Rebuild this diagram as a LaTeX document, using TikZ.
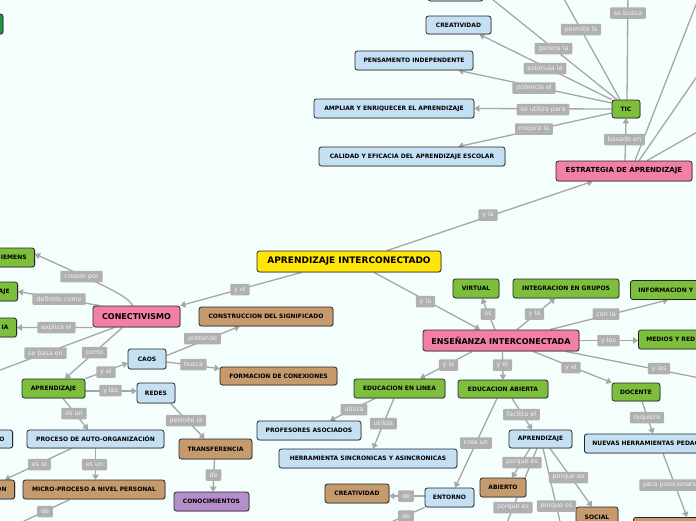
\documentclass[tikz,border=0pt]{standalone}
\usepackage{fontspec}
\setmainfont{DejaVu Sans}
\usetikzlibrary{arrows.meta,shadows,calc}
\definecolor{bgc}{RGB}{244,255,253}
\definecolor{cgreen}{RGB}{125,190,60}
\definecolor{cdgreen}{RGB}{30,150,60}
\definecolor{cpink}{RGB}{242,127,165}
\definecolor{cblue}{RGB}{198,224,243}
\definecolor{cbrown}{RGB}{197,154,108}
\definecolor{cpurple}{RGB}{180,143,201}
\definecolor{cyellow}{RGB}{255,229,10}
\definecolor{clab}{RGB}{176,176,176}
\definecolor{clabt}{RGB}{242,242,242}
\definecolor{cedge}{RGB}{166,166,166}
\pgfdeclarelayer{bg}
\pgfdeclarelayer{edges}
\pgfsetlayers{bg,edges,main}
\tikzset{
  box/.style={draw=black!85, line width=0.8pt, rounded corners=2.5pt, minimum height=19pt,
    inner xsep=0pt, inner ysep=0pt, text=black,
    font=\bfseries\fontsize{6}{7}\selectfont,
    drop shadow={shadow xshift=0.8pt, shadow yshift=-0.8pt, opacity=0.3}},
  gbox/.style={box, fill=cgreen},
  pbox/.style={box, fill=cpink},
  bbox/.style={box, fill=cblue},
  brbox/.style={box, fill=cbrown},
  ubox/.style={box, fill=cpurple},
  ybox/.style={box, fill=cyellow},
  lcut/.style={anchor=east, inner xsep=8pt, text width=44pt, align=right},
  rcut/.style={anchor=west, inner xsep=8pt, text width=90pt, align=left},
  lab/.style={fill=clab, text=clabt, rounded corners=1pt, inner xsep=3.8pt, inner ysep=0pt,
    minimum height=11.5pt, font=\fontsize{6.4}{7}\selectfont},
  conn/.style={draw=cedge, line width=1.3pt},
  arr/.style={conn, -{Triangle[length=5pt,width=6.5pt]}},
}
\begin{document}
\begin{tikzpicture}[x=1pt,y=-1pt]
\useasboundingbox (0,0) rectangle (696,520);
\begin{pgfonlayer}{bg}
\fill[bgc] (0,0) rectangle (696,520);
\end{pgfonlayer}

% ---------- main nodes ----------
\node[ybox, minimum width=184, minimum height=21, font=\bfseries\fontsize{9}{10}\selectfont] (AI) at (349,261.5) {APRENDIZAJE INTERCONECTADO};
\node[pbox, minimum width=136, minimum height=20, font=\bfseries\fontsize{7}{8}\selectfont] (EST) at (624,171) {ESTRATEGIA DE APRENDIZAJE};
\node[gbox, minimum width=28, minimum height=18] (TIC) at (626,109) {TIC};
\node[bbox, minimum width=65, minimum height=18] (CRE1) at (458.5,25) {CREATIVIDAD};
\node[bbox, minimum width=118] (PEN) at (414,60.5) {PENSAMENTO INDEPENDENTE};
\node[bbox, minimum width=160] (AMP) at (394,108.5) {AMPLIAR Y ENRIQUECER EL APRENDIZAJE};
\node[bbox, minimum width=186] (CAL) at (412,156.5) {CALIDAD Y EFICACIA DEL APRENDIZAJE ESCOLAR};
\node[bbox, minimum width=55, minimum height=18] (TOP) at (455.5,-8) {};
\node[box, fill=cdgreen, minimum width=43, minimum height=20] (TL) at (-18.5,24) {};

\node[pbox, minimum width=87, minimum height=21, font=\bfseries\fontsize{8}{9}\selectfont] (CON) at (136.5,316.5) {CONECTIVISMO};
\node[gbox, lcut] (SIEM) at (35,257.5) {IEMENS};
\node[gbox, lcut] (AJE) at (18,291.5) {AJE};
\node[gbox, lcut] (IA) at (17,327.5) {IA};
\node[bbox, lcut, minimum height=18] (OO) at (13,439) {O};
\node[brbox, lcut] (ON) at (15,489.5) {ON};

\node[gbox, minimum width=63] (APR1) at (53.5,388.5) {APRENDIZAJE};
\node[bbox, minimum width=38, minimum height=20] (CAOS) at (147,359) {CAOS};
\node[bbox, minimum width=38, minimum height=20] (REDES) at (156,393) {REDES};
\node[brbox, minimum width=134] (CONS) at (266,316.5) {CONSTRUCCION DEL SIGNIFICADO};
\node[brbox, minimum width=117, minimum height=18] (FORM) at (278.5,376) {FORMACION DE CONEXIONES};
\node[bbox, minimum width=137, minimum height=18] (PROC) at (95.5,439) {PROCESO DE AUTO-ORGANIZACIÓN};
\node[brbox, minimum width=142] (MICRO) at (94,489.5) {MICRO-PROCESO A NIVEL PERSONAL};
\node[brbox, minimum width=73, minimum height=20] (TRANS) at (215.5,449) {TRANSFERENCIA};
\node[ubox, minimum width=75] (CONOC) at (211.5,501.5) {CONOCIMIENTOS};

\node[pbox, minimum width=156, minimum height=21, font=\bfseries\fontsize{8}{9}\selectfont] (ENS) at (501,340.5) {ENSEÑANZA INTERCONECTADA};
\node[gbox, minimum width=46] (VIRT) at (476,288.5) {VIRTUAL};
\node[gbox, minimum width=106] (INTEG) at (566,288.5) {INTEGRACION EN GRUPOS};
\node[gbox, rcut] (INFO) at (630,290) {INFORMACION Y};
\node[gbox, rcut] (MED) at (638,339.5) {MEDIOS Y RED};
\node[gbox, minimum width=48, minimum height=18] (DOC) at (636,392) {DOCENTE};
\node[gbox, minimum width=90, minimum height=18] (EDAB) at (503,389) {EDUCACION ABIERTA};
\node[gbox, minimum width=91] (EDLIN) at (399.5,388.5) {EDUCACION EN LINEA};
\node[bbox, minimum width=104] (PROF) at (309,430.5) {PROFESORES ASOCIADOS};
\node[bbox, minimum width=178] (HERR) at (368,458.5) {HERRAMIENTA SINCRONICAS Y ASINCRONICAS};
\node[brbox, minimum width=64] (CRE2) at (357,493.5) {CREATIVIDAD};
\node[bbox, minimum width=49] (ENT) at (449.5,497.5) {ENTORNO};
\node[bbox, minimum width=63, minimum height=18] (APR2) at (540.5,439) {APRENDIZAJE};
\node[brbox, minimum width=46] (ABI) at (503,487.5) {ABIERTO};
\node[brbox, minimum width=42, minimum height=20] (SOC) at (597,517) {SOCIAL};
\node[bbox, rcut, text width=110pt, minimum height=19] (NUEV) at (584,443.5) {NUEVAS HERRAMIENTAS PEDAG};
\node[brbox, anchor=north west, minimum width=80] (BR) at (633,517) {};

% ---------- off-picture ends ----------
\coordinate (offA) at (487,-5);
\coordinate (offB) at (559,-10);
\coordinate (offC) at (628,-10);
\coordinate (offD) at (710,-31);
\coordinate (offE) at (720,43);
\coordinate (offF) at (720,119);
\coordinate (offG) at (-20,377.5);
\coordinate (offH) at (20,523);
\coordinate (offI) at (720,382);
\coordinate (offJ) at (373,530);
\coordinate (offK) at (504,530);
\coordinate (offL) at (562,530);

% ---------- connectors ----------
\begin{pgfonlayer}{edges}
\draw[conn] ($(TIC.north)+(-9,0)$) -- (offA);
\draw[arr] (TIC.north west) -- ($(CRE1.south east)+(-12,0)$);
\draw[arr] ($(TIC.west)+(0,-6)$) -- ($(PEN.south east)+(-15,0)$);
\draw[arr] (TIC.west) -- (AMP.east);
\draw[arr] ($(TIC.west)+(0,4)$) -- ($(CAL.north east)+(-47,0)$);
\draw[conn] ($(TIC.north)+(-6,0)$) -- (offB);
\draw[conn] ($(TIC.north)+(1,0)$) -- (offC);
\draw[arr] ($(EST.north)+(1,0)$) -- (TIC.south);
\draw[conn] ($(EST.north)+(11,0)$) -- (offD);
\draw[conn] ($(EST.north)+(15,0)$) -- (offE);
\draw[conn] ($(EST.north)+(23,0)$) -- (offF);
\draw[arr] ($(AI.north)+(38,0)$) -- ($(EST.south west)+(37,0)$);
\draw[arr] ($(AI.south west)+(45,0)$) -- (CON.north east);
\draw[arr] ($(AI.south)+(25,0)$) -- ($(ENS.north)+(-21,0)$);

\draw[arr] ($(CON.north)+(-4,0)$) .. controls (129,297) and (110,288) .. ($(SIEM.east)+(0,-3.5)$);
\draw[arr] ($(CON.north west)+(7,0)$) -- (AJE.east);
\draw[arr] (CON.south west) -- (IA.east);
\draw[conn] ($(CON.south west)+(22,0)$) -- (offG);
\draw[arr] ($(CON.south)+(-14,0)$) -- ($(APR1.north)+(11.5,0)$);
\draw[arr] (APR1.north east) -- ($(CAOS.west)+(0,4)$);
\draw[arr] ($(APR1.east)+(0,2.5)$) -- ($(REDES.west)+(0,-2)$);
\draw[arr] ($(CAOS.north east)+(0,7)$) -- ($(CONS.south west)+(41,0)$);
\draw[arr] ($(CAOS.east)+(0,3)$) -- ($(FORM.north west)+(0,2)$);
\draw[arr] ($(REDES.south east)+(-5,0)$) -- ($(TRANS.north west)+(26,0)$);
\draw[arr] ($(TRANS.south)+(-1,0)$) -- ($(CONOC.north)+(1.5,0)$);
\draw[arr] ($(APR1.south)+(9.5,0)$) -- ($(PROC.north)+(-7.5,0)$);
\draw[arr] ($(PROC.south)+(-24,0)$) -- ($(ON.north east)+(-10,0)$);
\draw[arr] (PROC.south) -- ($(MICRO.north)+(1.5,0)$);
\draw[conn] ($(MICRO.south)+(-24,0)$) -- (offH);

\draw[arr] ($(ENS.north)+(-6,0)$) -- ($(VIRT.south)+(6,0)$);
\draw[arr] ($(ENS.north)+(16,0)$) -- ($(INTEG.south)+(-11,0)$);
\draw[arr] ($(ENS.north)+(49,0)$) -- ($(INFO.south west)+(38,0)$);
\draw[arr] (ENS.east) -- (MED.west |- ENS.east);
\draw[conn] ($(ENS.south east)+(-14,0)$) -- (offI);
\draw[arr] ($(ENS.south)+(32,0)$) -- (DOC.north west);
\draw[arr] ($(ENS.south)+(1.5,0)$) -- (EDAB.north);
\draw[arr] ($(ENS.south west)+(50,0)$) -- ($(EDLIN.north)+(20.5,0)$);
\draw[arr] ($(EDLIN.south)+(-24.5,0)$) -- ($(PROF.north)+(21,0)$);
\draw[arr] ($(EDLIN.south)+(-5.5,0)$) -- ($(HERR.north)+(5,0)$);
\draw[arr] ($(EDAB.south)+(-6,0)$) -- ($(ENT.north)+(5.5,0)$);
\draw[arr] ($(EDAB.south)+(9,0)$) -- ($(APR2.north)+(-8.5,0)$);
\draw[arr] ($(ENT.west)+(0,-1.5)$) -- ($(CRE2.east)+(0,2.5)$);
\draw[conn] (ENT.south west) -- (offJ);
\draw[arr] ($(APR2.south)+(-10.5,0)$) -- ($(ABI.north)+(9,0)$);
\draw[conn] ($(APR2.south)+(-3.5,0)$) -- (offK);
\draw[conn] ($(APR2.south)+(2.5,0)$) -- (offL);
\draw[arr] ($(APR2.south)+(9.5,0)$) -- ($(SOC.north)+(-5,0)$);
\draw[arr] ($(DOC.south)+(6,0)$) -- ($(NUEV.north west)+(69,0)$);
\draw[arr] ($(NUEV.south west)+(79,0)$) -- ($(BR.north west)+(54,0)$);
\end{pgfonlayer}

% ---------- connector labels ----------
\node[lab] (l1) at (628,13) {se busca};
\node[lab] (l2) at (581,29.5) {permite la};
\node[lab] (l3) at (553.5,48.5) {genera la};
\node[lab] (l4) at (545,68.5) {estimula la};
\node[lab] (l5) at (534,88) {potencia el};
\node[lab] (l6) at (543,109.5) {se utiliza para};
\node[lab] (l7) at (534,129) {mejora la};
\node[lab] (l8) at (624.5,139.5) {basado en};
\node[lab] (l9) at (488,215) {y la};
\node[lab] (l10) at (240,289.5) {y el};
\node[lab] (l11) at (425.5,301.5) {y la};
\node[lab] (l12) at (81.5,276.5) {creado por};
\node[lab] (l13) at (59,299) {definido como};
\node[lab] (l14) at (56.5,327.5) {explica el};
\node[lab] (l15) at (45.5,353) {se basa en};
\node[lab] (l16) at (94.5,352.5) {como};
\node[lab] (l17) at (106,372) {y el};
\node[lab] (l18) at (110.5,390.5) {y las};
\node[lab] (l19) at (202.5,338.5) {pretende};
\node[lab] (l20) at (193.5,364.5) {busca};
\node[lab] (l21) at (74,413.5) {es un};
\node[lab] (l22) at (186,420.5) {permite la};
\node[lab] (l23) at (39.5,464.5) {es la};
\node[lab] (l24) at (94.5,464.5) {es un};
\node[lab] (l25) at (45,511.5) {de};
\node[lab] (l26) at (213.5,475) {de};
\node[lab] (l27) at (488,314) {es};
\node[lab] (l28) at (534.5,314) {y la};
\node[lab] (l29) at (606,314) {con la};
\node[lab] (l30) at (608.5,340.5) {y los};
\node[lab] (l31) at (659,368.5) {y las};
\node[lab] (l32) at (571,367.5) {y el};
\node[lab] (l33) at (502.5,365) {y el};
\node[lab] (l34) at (448.5,365) {y la};
\node[lab] (l35) at (354,409.5) {utiliza};
\node[lab] (l36) at (383.5,423.5) {utiliza};
\node[lab] (l37) at (406,496) {de};
\node[lab] (l38) at (406,516) {de};
\node[lab] (l39) at (476,443) {crea un};
\node[lab] (l40) at (521.5,414.5) {facilita el};
\node[lab] (l41) at (522,462.5) {porque es};
\node[lab] (l42) at (513,507.5) {porque es};
\node[lab] (l43) at (556.5,506) {porque es};
\node[lab] (l44) at (568.5,477.5) {porque es};
\node[lab] (l45) at (647,417.5) {requiere};
\node[lab] (l46) at (671.5,485) {para posicionarse};
\end{tikzpicture}
\end{document}
